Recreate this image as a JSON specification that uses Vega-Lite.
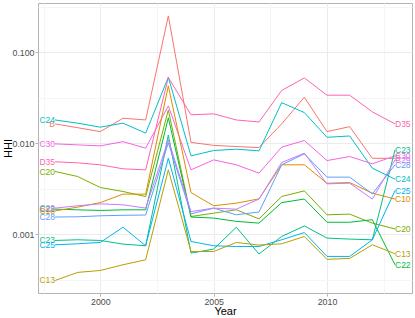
{
  "$schema": "https://vega.github.io/schema/vega-lite/v6.json",
  "width": 374,
  "height": 290,
  "autosize": "none",
  "padding": {"left": 38, "top": 3, "right": 3, "bottom": 25},
  "background": "white",
  "config": {
    "view": {"stroke": "#B3B3B3", "strokeWidth": 1},
    "font": "Liberation Sans"
  },
  "data": {"values": [
    {"sector":"B","year":1998,"hhi":0.0163},{"sector":"B","year":1999,"hhi":0.0148},{"sector":"B","year":2000,"hhi":0.0134},{"sector":"B","year":2001,"hhi":0.0188},{"sector":"B","year":2002,"hhi":0.0180},{"sector":"B","year":2003,"hhi":0.251},{"sector":"B","year":2004,"hhi":0.0102},{"sector":"B","year":2005,"hhi":0.00946},{"sector":"B","year":2006,"hhi":0.00918},{"sector":"B","year":2007,"hhi":0.00895},{"sector":"B","year":2008,"hhi":0.0163},{"sector":"B","year":2009,"hhi":0.0320},{"sector":"B","year":2010,"hhi":0.0134},{"sector":"B","year":2011,"hhi":0.0152},{"sector":"B","year":2012,"hhi":0.00681},{"sector":"B","year":2013,"hhi":0.00681},
    {"sector":"C24","year":1998,"hhi":0.0180},{"sector":"C24","year":1999,"hhi":0.0166},{"sector":"C24","year":2000,"hhi":0.0150},{"sector":"C24","year":2001,"hhi":0.0166},{"sector":"C24","year":2002,"hhi":0.0129},{"sector":"C24","year":2003,"hhi":0.0531},{"sector":"C24","year":2004,"hhi":0.00725},{"sector":"C24","year":2005,"hhi":0.00830},{"sector":"C24","year":2006,"hhi":0.00859},{"sector":"C24","year":2007,"hhi":0.00823},{"sector":"C24","year":2008,"hhi":0.0279},{"sector":"C24","year":2009,"hhi":0.0217},{"sector":"C24","year":2010,"hhi":0.0116},{"sector":"C24","year":2011,"hhi":0.0120},{"sector":"C24","year":2012,"hhi":0.00531},{"sector":"C24","year":2013,"hhi":0.00402},
    {"sector":"C30","year":1998,"hhi":0.00982},{"sector":"C30","year":1999,"hhi":0.00958},{"sector":"C30","year":2000,"hhi":0.00934},{"sector":"C30","year":2001,"hhi":0.0104},{"sector":"C30","year":2002,"hhi":0.00881},{"sector":"C30","year":2003,"hhi":0.0257},{"sector":"C30","year":2004,"hhi":0.00509},{"sector":"C30","year":2005,"hhi":0.00655},{"sector":"C30","year":2006,"hhi":0.00578},{"sector":"C30","year":2007,"hhi":0.00468},{"sector":"C30","year":2008,"hhi":0.00904},{"sector":"C30","year":2009,"hhi":0.0107},{"sector":"C30","year":2010,"hhi":0.00644},{"sector":"C30","year":2011,"hhi":0.00713},{"sector":"C30","year":2012,"hhi":0.00593},{"sector":"C30","year":2013,"hhi":0.00725},
    {"sector":"D35","year":1998,"hhi":0.00624},{"sector":"D35","year":1999,"hhi":0.00608},{"sector":"D35","year":2000,"hhi":0.00578},{"sector":"D35","year":2001,"hhi":0.00522},{"sector":"D35","year":2002,"hhi":0.00509},{"sector":"D35","year":2003,"hhi":0.0528},{"sector":"D35","year":2004,"hhi":0.0205},{"sector":"D35","year":2005,"hhi":0.0210},{"sector":"D35","year":2006,"hhi":0.0180},{"sector":"D35","year":2007,"hhi":0.0171},{"sector":"D35","year":2008,"hhi":0.0380},{"sector":"D35","year":2009,"hhi":0.0522},{"sector":"D35","year":2010,"hhi":0.0337},{"sector":"D35","year":2011,"hhi":0.0337},{"sector":"D35","year":2012,"hhi":0.0221},{"sector":"D35","year":2013,"hhi":0.0163},
    {"sector":"C20","year":1998,"hhi":0.00488},{"sector":"C20","year":1999,"hhi":0.00430},{"sector":"C20","year":2000,"hhi":0.00325},{"sector":"C20","year":2001,"hhi":0.00294},{"sector":"C20","year":2002,"hhi":0.00259},{"sector":"C20","year":2003,"hhi":0.0232},{"sector":"C20","year":2004,"hhi":0.00156},{"sector":"C20","year":2005,"hhi":0.00170},{"sector":"C20","year":2006,"hhi":0.00185},{"sector":"C20","year":2007,"hhi":0.00147},{"sector":"C20","year":2008,"hhi":0.00259},{"sector":"C20","year":2009,"hhi":0.00299},{"sector":"C20","year":2010,"hhi":0.00163},{"sector":"C20","year":2011,"hhi":0.00166},{"sector":"C20","year":2012,"hhi":0.00132},{"sector":"C20","year":2013,"hhi":0.00114},
    {"sector":"C22","year":1998,"hhi":0.00188},{"sector":"C22","year":1999,"hhi":0.00185},{"sector":"C22","year":2000,"hhi":0.00182},{"sector":"C22","year":2001,"hhi":0.00185},{"sector":"C22","year":2002,"hhi":0.00185},{"sector":"C22","year":2003,"hhi":0.0190},{"sector":"C22","year":2004,"hhi":0.00154},{"sector":"C22","year":2005,"hhi":0.00150},{"sector":"C22","year":2006,"hhi":0.00138},{"sector":"C22","year":2007,"hhi":0.00132},{"sector":"C22","year":2008,"hhi":0.00222},{"sector":"C22","year":2009,"hhi":0.00243},{"sector":"C22","year":2010,"hhi":0.00135},{"sector":"C22","year":2011,"hhi":0.00135},{"sector":"C22","year":2012,"hhi":0.00144},{"sector":"C22","year":2013,"hhi":0.000460},
    {"sector":"C23","year":1998,"hhi":0.000851},{"sector":"C23","year":1999,"hhi":0.000866},{"sector":"C23","year":2000,"hhi":0.000851},{"sector":"C23","year":2001,"hhi":0.000776},{"sector":"C23","year":2002,"hhi":0.000744},{"sector":"C23","year":2003,"hhi":0.0123},{"sector":"C23","year":2004,"hhi":0.000618},{"sector":"C23","year":2005,"hhi":0.000684},{"sector":"C23","year":2006,"hhi":0.00119},{"sector":"C23","year":2007,"hhi":0.000604},{"sector":"C23","year":2008,"hhi":0.000941},{"sector":"C23","year":2009,"hhi":0.00123},{"sector":"C23","year":2010,"hhi":0.000904},{"sector":"C23","year":2011,"hhi":0.000881},{"sector":"C23","year":2012,"hhi":0.000866},{"sector":"C23","year":2013,"hhi":0.00844},
    {"sector":"C25","year":1998,"hhi":0.000763},{"sector":"C25","year":1999,"hhi":0.000782},{"sector":"C25","year":2000,"hhi":0.000809},{"sector":"C25","year":2001,"hhi":0.00119},{"sector":"C25","year":2002,"hhi":0.000744},{"sector":"C25","year":2003,"hhi":0.00684},{"sector":"C25","year":2004,"hhi":0.000830},{"sector":"C25","year":2005,"hhi":0.000744},{"sector":"C25","year":2006,"hhi":0.000731},{"sector":"C25","year":2007,"hhi":0.000731},{"sector":"C25","year":2008,"hhi":0.000866},{"sector":"C25","year":2009,"hhi":0.00104},{"sector":"C25","year":2010,"hhi":0.000568},{"sector":"C25","year":2011,"hhi":0.000568},{"sector":"C25","year":2012,"hhi":0.000866},{"sector":"C25","year":2013,"hhi":0.00301},
    {"sector":"C13","year":1998,"hhi":0.000309},{"sector":"C13","year":1999,"hhi":0.000379},{"sector":"C13","year":2000,"hhi":0.000398},{"sector":"C13","year":2001,"hhi":0.000460},{"sector":"C13","year":2002,"hhi":0.000522},{"sector":"C13","year":2003,"hhi":0.00509},{"sector":"C13","year":2004,"hhi":0.000644},{"sector":"C13","year":2005,"hhi":0.000644},{"sector":"C13","year":2006,"hhi":0.000809},{"sector":"C13","year":2007,"hhi":0.000757},{"sector":"C13","year":2008,"hhi":0.000782},{"sector":"C13","year":2009,"hhi":0.000941},{"sector":"C13","year":2010,"hhi":0.000528},{"sector":"C13","year":2011,"hhi":0.000540},{"sector":"C13","year":2012,"hhi":0.000763},{"sector":"C13","year":2013,"hhi":0.000608},
    {"sector":"C10","year":1998,"hhi":0.00180},{"sector":"C10","year":1999,"hhi":0.00198},{"sector":"C10","year":2000,"hhi":0.00222},{"sector":"C10","year":2001,"hhi":0.00275},{"sector":"C10","year":2002,"hhi":0.00275},{"sector":"C10","year":2003,"hhi":0.0427},{"sector":"C10","year":2004,"hhi":0.00286},{"sector":"C10","year":2005,"hhi":0.00205},{"sector":"C10","year":2006,"hhi":0.00219},{"sector":"C10","year":2007,"hhi":0.00244},{"sector":"C10","year":2008,"hhi":0.00578},{"sector":"C10","year":2009,"hhi":0.00578},{"sector":"C10","year":2010,"hhi":0.00362},{"sector":"C10","year":2011,"hhi":0.00369},{"sector":"C10","year":2012,"hhi":0.00282},{"sector":"C10","year":2013,"hhi":0.00243},
    {"sector":"C28","year":1998,"hhi":0.00154},{"sector":"C28","year":1999,"hhi":0.00155},{"sector":"C28","year":2000,"hhi":0.00159},{"sector":"C28","year":2001,"hhi":0.00161},{"sector":"C28","year":2002,"hhi":0.00162},{"sector":"C28","year":2003,"hhi":0.0101},{"sector":"C28","year":2004,"hhi":0.00167},{"sector":"C28","year":2005,"hhi":0.00193},{"sector":"C28","year":2006,"hhi":0.00163},{"sector":"C28","year":2007,"hhi":0.00175},{"sector":"C28","year":2008,"hhi":0.00578},{"sector":"C28","year":2009,"hhi":0.00763},{"sector":"C28","year":2010,"hhi":0.00423},{"sector":"C28","year":2011,"hhi":0.00423},{"sector":"C28","year":2012,"hhi":0.00277},{"sector":"C28","year":2013,"hhi":0.00578},
    {"sector":"C29","year":1998,"hhi":0.00193},{"sector":"C29","year":1999,"hhi":0.00205},{"sector":"C29","year":2000,"hhi":0.00215},{"sector":"C29","year":2001,"hhi":0.00210},{"sector":"C29","year":2002,"hhi":0.00193},{"sector":"C29","year":2003,"hhi":0.0109},{"sector":"C29","year":2004,"hhi":0.00177},{"sector":"C29","year":2005,"hhi":0.00193},{"sector":"C29","year":2006,"hhi":0.00188},{"sector":"C29","year":2007,"hhi":0.00243},{"sector":"C29","year":2008,"hhi":0.00612},{"sector":"C29","year":2009,"hhi":0.00777},{"sector":"C29","year":2010,"hhi":0.00357},{"sector":"C29","year":2011,"hhi":0.00363},{"sector":"C29","year":2012,"hhi":0.00243},{"sector":"C29","year":2013,"hhi":0.00655}
  ]},
  "encoding": {
    "x": {
      "field": "year", "type": "quantitative",
      "scale": {"domain": [1997.25, 2013.75], "nice": false, "zero": false},
      "axis": {
        "title": "Year",
        "values": [1997.5, 2000, 2002.5, 2005, 2007.5, 2010, 2012.5],
        "labelExpr": "datum.value % 5 == 0 ? format(datum.value, 'd') : ''",
        "gridColor": {"condition": {"test": "datum.value % 5 != 0", "value": "#F5F5F5"}, "value": "#EBEBEB"},
        "tickOpacity": {"condition": {"test": "datum.value % 5 != 0", "value": 0}, "value": 1},
        "tickColor": "#B3B3B3", "tickSize": 3, "domain": false,
        "labelColor": "#4D4D4D", "labelFontSize": 8.8, "labelPadding": 1, "labelFont": "Liberation Sans",
        "titleFontSize": 11, "titleFontWeight": "normal", "titleColor": "#000000", "titlePadding": 0, "titleFont": "Liberation Sans"
      }
    },
    "y": {
      "field": "hhi", "type": "quantitative",
      "scale": {"type": "log", "domain": [0.000225, 0.348], "nice": false},
      "axis": {
        "title": "HHI",
        "values": [0.000316228, 0.001, 0.00316228, 0.01, 0.0316228, 0.1, 0.316228],
        "labelExpr": "(datum.value == 0.001 || datum.value == 0.01 || datum.value == 0.1) ? format(datum.value, '.3f') : ''",
        "gridColor": {"condition": {"test": "!(datum.value == 0.001 || datum.value == 0.01 || datum.value == 0.1)", "value": "#F5F5F5"}, "value": "#EBEBEB"},
        "tickOpacity": {"condition": {"test": "!(datum.value == 0.001 || datum.value == 0.01 || datum.value == 0.1)", "value": 0}, "value": 1},
        "tickColor": "#B3B3B3", "tickSize": 3, "domain": false,
        "labelColor": "#4D4D4D", "labelFontSize": 8.8, "labelPadding": 1, "labelFont": "Liberation Sans",
        "titleFontSize": 11, "titleFontWeight": "normal", "titleColor": "#000000", "titleFont": "Liberation Sans",
        "titleX": -27, "titleBaseline": "alphabetic"
      }
    },
    "color": {
      "field": "sector", "type": "nominal", "legend": null,
      "scale": {
        "domain": ["B","C10","C13","C20","C22","C23","C24","C25","C28","C29","C30","D35"],
        "range": ["#F8766D","#DE8C00","#B79F00","#7CAE00","#00BA38","#00C08B","#00BFC4","#00B4F0","#619CFF","#C77CFF","#F564E3","#FF64B0"]
      }
    }
  },
  "layer": [
    {"mark": {"type": "line", "strokeWidth": 1}},
    {
      "transform": [{"filter": "datum.year == 1998"}],
      "mark": {"type": "text", "align": "right", "baseline": "middle", "fontSize": 8.5, "font": "Liberation Sans"},
      "encoding": {"text": {"field": "sector"}}
    },
    {
      "transform": [{"filter": "datum.year == 2013"}],
      "mark": {"type": "text", "align": "left", "baseline": "middle", "fontSize": 8.5, "font": "Liberation Sans"},
      "encoding": {"text": {"field": "sector"}}
    }
  ]
}
